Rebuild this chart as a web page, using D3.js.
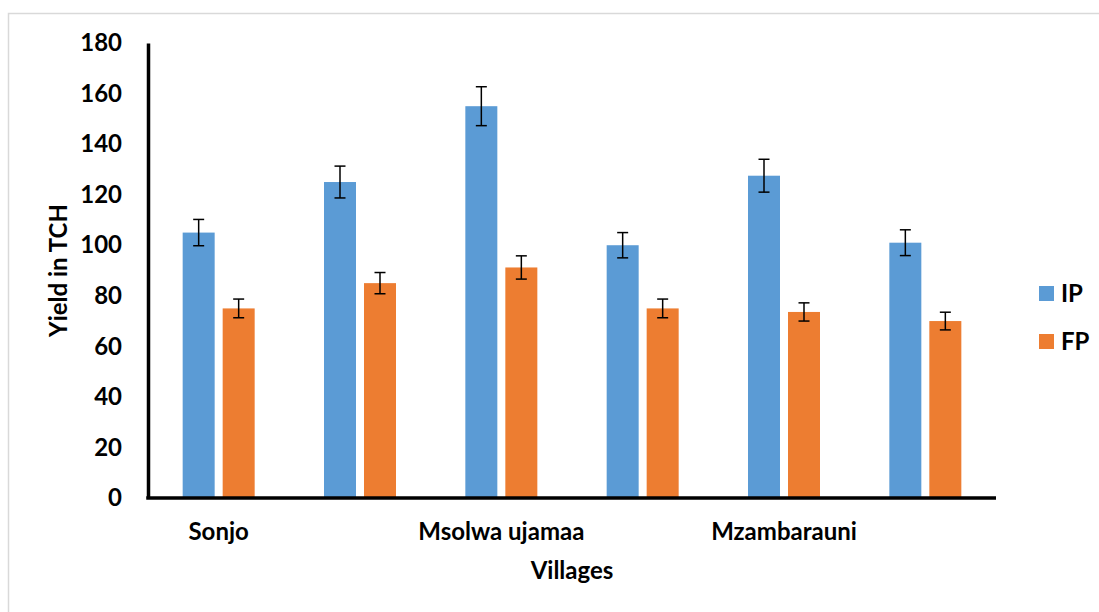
<!DOCTYPE html>
<html>
<head>
<meta charset="utf-8">
<script src="https://cdn.jsdelivr.net/npm/d3@7"></script>
<style>
  html, body { margin: 0; padding: 0; background: #fff; }
  svg { display: block; }
  text { font-family: Lato, "Open Sans", sans-serif; font-weight: bold; fill: #000; }
</style>
</head>
<body>
<svg id="chart" width="1099" height="612"></svg>
<script>
// Village groups (Excel-style axis: only every other category is labelled)
const categories = ["Sonjo", "", "Msolwa ujamaa", "", "Mzambarauni", ""];
const series = ["IP", "FP"];
const ipValues = [105, 125, 155, 100, 127.5, 101];
const fpValues = [75, 85, 91.2, 75, 73.6, 70];
const ipErrors = [5.2, 6.3, 7.7, 5, 6.5, 5.1];
const fpErrors = [3.7, 4.2, 4.6, 3.7, 3.6, 3.5];
const yTicks = [0, 20, 40, 60, 80, 100, 120, 140, 160, 180];
const colors = { IP: "#5B9BD5", FP: "#ED7D31" };

const FONT = 24;
const svg = d3.select("#chart");

// Outer chart frame
svg.append("rect")
  .attr("x", 8.5).attr("y", 13.5)
  .attr("width", 1120).attr("height", 640)
  .attr("fill", "none").attr("stroke", "#d9d9d9").attr("stroke-width", 1.5);

const plot = { left: 148, right: 996, top: 43, bottom: 498 };

const x = d3.scaleBand()
  .domain(d3.range(categories.length))
  .range([plot.left, plot.right])
  .paddingInner(0).paddingOuter(0);

const barW = 32, barGap = 8;
const groupW = 2 * barW + barGap;
const offset = (x.bandwidth() - groupW) / 2;

const y = d3.scaleLinear().domain([0, 180]).range([plot.bottom, plot.top]);

const rows = categories.map((c, i) => ({
  i,
  values: [
    { key: "IP", v: ipValues[i], e: ipErrors[i] },
    { key: "FP", v: fpValues[i], e: fpErrors[i] }
  ]
}));

const groups = svg.append("g").selectAll("g")
  .data(rows).join("g")
  .attr("transform", d => `translate(${x(d.i) + offset},0)`);

groups.selectAll("rect")
  .data(d => d.values).join("rect")
  .attr("x", (d, j) => j * (barW + barGap))
  .attr("y", d => y(d.v))
  .attr("width", barW)
  .attr("height", d => y(0) - y(d.v))
  .attr("fill", d => colors[d.key]);

// Error bars
const capHalf = 5.5;
const cx = (d, j) => j * (barW + barGap) + barW / 2;
const err = groups.selectAll("g.err")
  .data(d => d.values).join("g").attr("class", "err")
  .attr("stroke", "#000").attr("stroke-width", 1.5);
err.append("line")
  .attr("x1", cx).attr("x2", cx)
  .attr("y1", d => y(d.v + d.e)).attr("y2", d => y(d.v - d.e));
err.append("line")
  .attr("x1", (d, j) => cx(d, j) - capHalf)
  .attr("x2", (d, j) => cx(d, j) + capHalf)
  .attr("y1", d => y(d.v + d.e)).attr("y2", d => y(d.v + d.e));
err.append("line")
  .attr("x1", (d, j) => cx(d, j) - capHalf)
  .attr("x2", (d, j) => cx(d, j) + capHalf)
  .attr("y1", d => y(d.v - d.e)).attr("y2", d => y(d.v - d.e));

// Y axis
const yAxis = svg.append("g")
  .attr("transform", `translate(${plot.left},0)`)
  .call(d3.axisLeft(y).tickValues(yTicks).tickSize(0).tickPadding(26));
yAxis.select(".domain").attr("stroke", "#000").attr("stroke-width", 3.5);
yAxis.selectAll("text")
  .attr("font-size", FONT).attr("font-family", "Lato, sans-serif")
  .attr("font-weight", "bold").attr("fill", "#000");

// X axis
const xAxis = svg.append("g")
  .attr("transform", `translate(0,${plot.bottom})`)
  .call(d3.axisBottom(x).tickSize(0).tickPadding(25)
    .tickFormat(i => categories[i]));
xAxis.select(".domain").attr("stroke", "#000").attr("stroke-width", 3.5)
  .attr("d", `M${plot.left - 1.75},0H${plot.right}`);
xAxis.selectAll("text")
  .attr("font-size", FONT).attr("font-family", "Lato, sans-serif")
  .attr("font-weight", "bold").attr("fill", "#000");

// Axis titles
svg.append("text")
  .attr("transform", `translate(67,${(plot.top + plot.bottom) / 2}) rotate(-90)`)
  .attr("text-anchor", "middle")
  .attr("font-size", FONT)
  .text("Yield in TCH");

svg.append("text")
  .attr("x", (plot.left + plot.right) / 2)
  .attr("y", 579)
  .attr("text-anchor", "middle")
  .attr("font-size", FONT)
  .text("Villages");

// Legend
const legend = svg.append("g").attr("transform", "translate(1039,286)");
const li = legend.selectAll("g").data(series).join("g")
  .attr("transform", (d, i) => `translate(0,${i * 48})`);
li.append("rect").attr("width", 15).attr("height", 15).attr("fill", d => colors[d]);
li.append("text").attr("x", 22).attr("y", 16).attr("font-size", FONT).text(d => d);
</script>
</body>
</html>
